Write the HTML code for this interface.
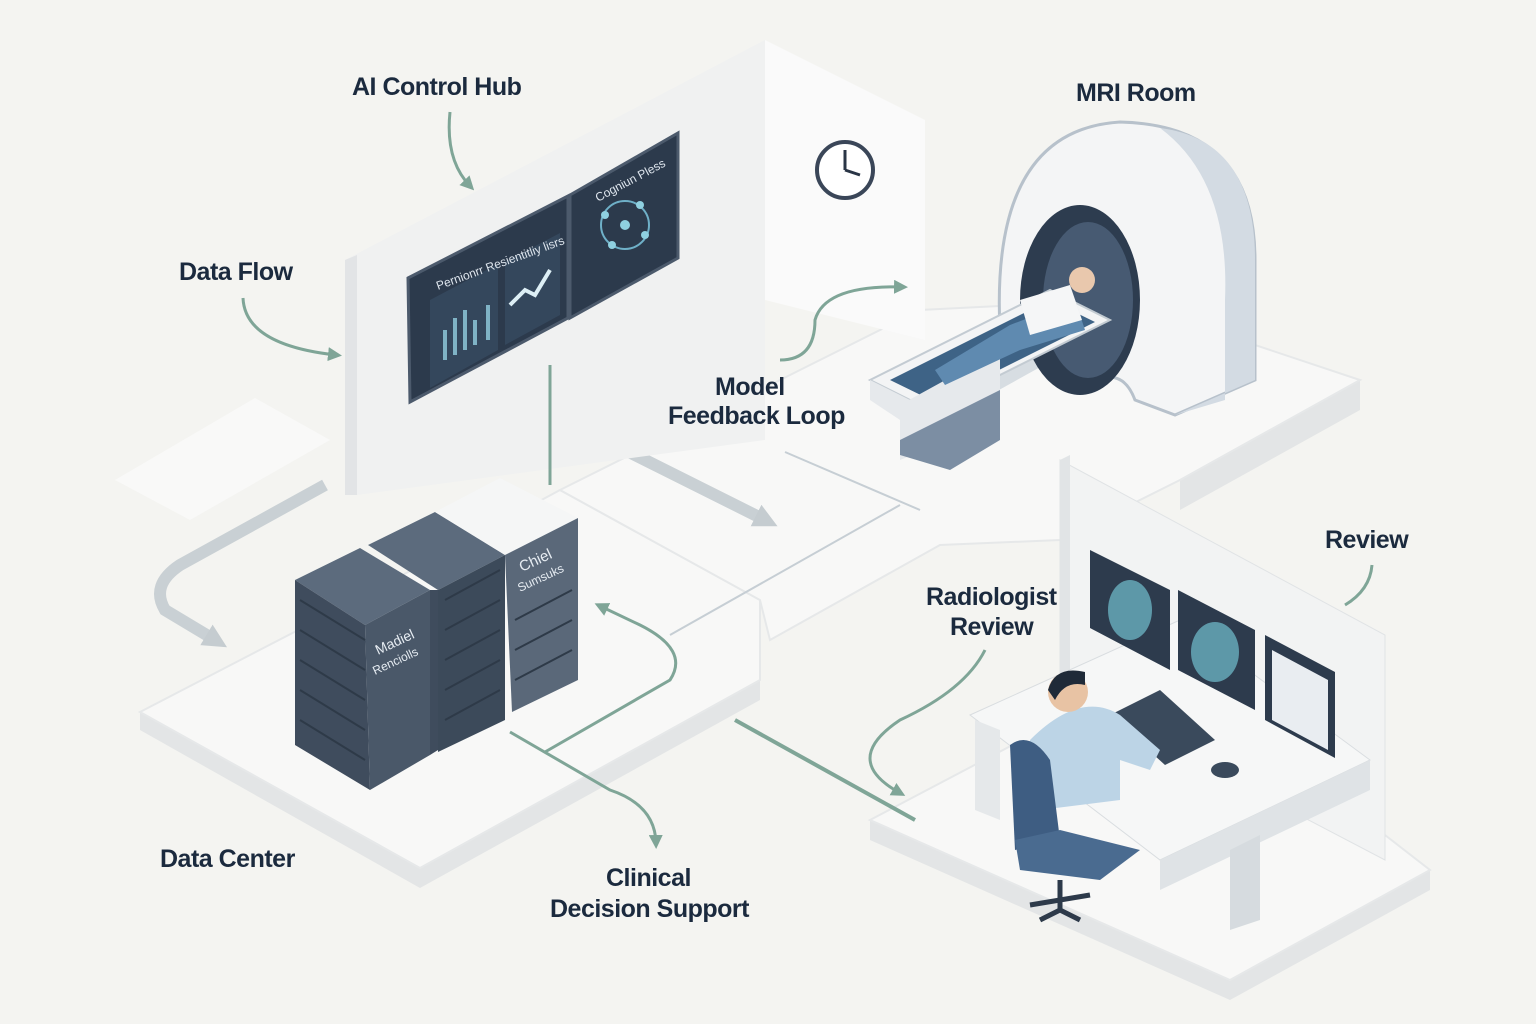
<!DOCTYPE html>
<html><head><meta charset="utf-8"><style>
html,body{margin:0;padding:0;background:#f4f4f1;}
svg{display:block}
text{font-family:"Liberation Sans",sans-serif;fill:#1b2a3e;}
.lbl{font-size:25px;font-weight:bold;letter-spacing:-0.5px}
</style></head><body>
<svg width="1536" height="1024" viewBox="0 0 1536 1024" xmlns="http://www.w3.org/2000/svg">
<defs>
<marker id="ah" markerWidth="14" markerHeight="14" refX="8" refY="7" orient="auto" markerUnits="userSpaceOnUse"><path d="M0,0 L14,7 L0,14 z" fill="#7fa597"/></marker>
<marker id="ag" markerWidth="30" markerHeight="30" refX="10" refY="15" orient="auto" markerUnits="userSpaceOnUse"><path d="M0,3 L24,15 L0,27 z" fill="#c5ccd0"/></marker>
</defs>
<rect width="1536" height="1024" fill="#f4f4f1"/>
<polygon points="115,480 255,398 330,440 190,520" fill="#f9f9f8"/>
<g fill="#e3e5e6">
<polygon points="140,730 420,888 760,700 760,680 420,868 140,712"/>
<polygon points="870,840 1230,1000 1430,890 1430,870 1230,980 870,820"/>
<polygon points="1180,510 1360,410 1360,380 1180,480"/>
</g>
<g fill="#f8f8f7" stroke="#e6e8e9" stroke-width="2">
<polygon points="140,712 360,598 560,490 760,600 760,680 420,868"/>
<polygon points="560,490 800,370 920,310 1120,300 1360,380 1180,480 1060,540 940,545 770,640 760,600"/>
<polygon points="870,820 1060,720 1160,660 1430,870 1230,980"/>
</g>
<g stroke="#c6ced4" stroke-width="2" fill="none">
<line x1="560" y1="420" x2="750" y2="330"/>
<line x1="670" y1="635" x2="900" y2="505"/>
<line x1="785" y1="452" x2="920" y2="510"/>
</g>
<g stroke="#c9d0d4" stroke-width="12" fill="none">
<path d="M325,485 L180,565 Q150,585 165,610 L215,640" marker-end="url(#ag)"/>
<line x1="605" y1="440" x2="765" y2="520" marker-end="url(#ag)"/>
</g>
<polygon points="345,260 765,40 765,440 357,495" fill="#f0f1f1"/>
<polygon points="765,40 925,120 925,340 765,300" fill="#fafafa"/>
<polygon points="345,260 357,255 357,495 345,495" fill="#e2e4e6"/>
<polygon points="408,278 568,196 568,318 410,402" fill="#2c3a4c" stroke="#4c5a6c" stroke-width="3"/>
<polygon points="570,195 678,133 678,258 570,318" fill="#2c3a4c" stroke="#4c5a6c" stroke-width="3"/>
<polygon points="430,300 498,264 498,350 430,388" fill="#34475c"/>
<polygon points="505,262 560,233 560,315 505,345" fill="#34475c"/>
<g stroke="#7fb3c5" stroke-width="4"><line x1="445" y1="360" x2="445" y2="330"/><line x1="455" y1="355" x2="455" y2="318"/><line x1="465" y1="350" x2="465" y2="310"/><line x1="475" y1="345" x2="475" y2="320"/><line x1="488" y1="340" x2="488" y2="305"/></g>
<polyline points="510,305 525,290 535,295 550,270" stroke="#ddeff5" stroke-width="4" fill="none"/>
<circle cx="625" cy="225" r="24" fill="none" stroke="#6fb0c8" stroke-width="2"/>
<g fill="#8fd0e0"><circle cx="605" cy="215" r="4"/><circle cx="640" cy="205" r="4"/><circle cx="645" cy="235" r="4"/><circle cx="612" cy="245" r="4"/><circle cx="625" cy="225" r="5"/></g>
<text x="438" y="290" font-size="12" style="fill:#dfe6ee" transform="rotate(-20 438 290)">Pernionrr Resientitliy lisrs</text>
<text x="598" y="202" font-size="12" style="fill:#dfe6ee" transform="rotate(-28 598 202)">Cogniun Pless</text>
<circle cx="845" cy="170" r="28" fill="#fff" stroke="#3a4658" stroke-width="4"/>
<path d="M845,170 L845,150 M845,170 L860,175" stroke="#2a3546" stroke-width="3"/>
<polygon points="900,400 1080,300 1080,345 900,445" fill="#d7dde2"/>
<path d="M1000,330 Q990,130 1120,122 Q1255,125 1255,260 L1255,380 L1175,415 L1135,400 Q1120,360 1080,390 Z" fill="#f4f5f6" stroke="#b7c1cb" stroke-width="3"/>
<path d="M1175,415 L1255,380 L1255,260 Q1255,140 1160,128 Q1230,180 1225,300 L1225,400 Z" fill="#d3dbe3"/>
<ellipse cx="1080" cy="300" rx="60" ry="95" fill="#2d3c4f"/>
<ellipse cx="1088" cy="300" rx="45" ry="78" fill="#475a72"/>
<polygon points="870,380 1050,290 1110,320 930,410" fill="#f3f4f5" stroke="#c3cbd2" stroke-width="2"/>
<polygon points="890,380 1050,300 1095,322 935,402" fill="#3e6386"/>
<polygon points="870,380 930,410 930,440 870,400" fill="#e6e9ec"/>
<polygon points="900,405 1000,350 1000,420 900,460" fill="#e6e9ec"/>
<polygon points="900,440 1000,390 1000,440 950,470 900,455" fill="#7c8ea3"/>
<path d="M935,370 L1010,325 L1075,300 L1085,330 L1020,350 L945,385 Z" fill="#5f8ab0"/>
<path d="M1020,300 L1070,285 L1082,320 L1030,335 Z" fill="#f5f6f7"/>
<circle cx="1082" cy="280" r="13" fill="#e9c8ad"/>
<polygon points="295,580 360,548 430,590 365,625" fill="#5c6b7d"/>
<polygon points="295,580 365,625 370,790 295,745" fill="#3f4c5d"/>
<polygon points="365,625 430,590 430,755 370,790" fill="#4a5869"/>
<polygon points="368,545 435,512 505,555 438,590" fill="#5c6b7d"/>
<polygon points="430,590 438,590 438,750 430,755" fill="#3f4c5d"/>
<polygon points="438,590 505,555 505,720 438,752" fill="#3c4a5a"/>
<polygon points="435,512 500,478 578,518 505,555" fill="#f5f6f6"/>
<polygon points="505,555 578,518 578,680 512,712" fill="#5a6879"/>
<g stroke="#2e3a48" stroke-width="2">
<line x1="300" y1="600" x2="365" y2="640"/><line x1="300" y1="630" x2="365" y2="670"/><line x1="300" y1="660" x2="365" y2="700"/><line x1="300" y1="690" x2="365" y2="730"/><line x1="300" y1="720" x2="365" y2="760"/>
<line x1="445" y1="600" x2="500" y2="570"/><line x1="445" y1="630" x2="500" y2="600"/><line x1="445" y1="660" x2="500" y2="630"/><line x1="445" y1="690" x2="500" y2="660"/><line x1="445" y1="720" x2="500" y2="690"/>
<line x1="515" y1="620" x2="572" y2="590"/><line x1="515" y1="650" x2="572" y2="620"/><line x1="515" y1="680" x2="572" y2="650"/>
</g>
<text x="378" y="655" font-size="14" style="fill:#e6ecf2" transform="rotate(-25 378 655)">Madiel</text>
<text x="375" y="675" font-size="12" style="fill:#e6ecf2" transform="rotate(-25 375 675)">Renciolls</text>
<text x="522" y="572" font-size="15" style="fill:#e6ecf2" transform="rotate(-25 522 572)">Chiel</text>
<text x="520" y="592" font-size="12" style="fill:#e6ecf2" transform="rotate(-25 520 592)">Sumsuks</text>
<polygon points="1060,460 1385,635 1385,860 1060,690" fill="#f2f3f3" stroke="#e0e3e5"/>
<polygon points="1060,460 1070,455 1070,690 1060,690" fill="#e1e4e6"/>
<polygon points="970,715 1180,620 1370,760 1160,860" fill="#f6f7f7" stroke="#d9dde0"/>
<polygon points="1160,860 1370,760 1370,790 1160,890" fill="#dfe3e6"/>
<polygon points="975,720 1000,730 1000,820 975,810" fill="#e5e8ea"/>
<polygon points="1230,850 1260,835 1260,920 1230,930" fill="#d6dbdf"/>
<g fill="#2d3b4d">
<polygon points="1090,550 1170,590 1170,670 1090,628"/>
<polygon points="1178,590 1255,630 1255,710 1178,670"/>
<polygon points="1265,635 1335,672 1335,758 1265,720"/>
</g>
<ellipse cx="1130" cy="610" rx="22" ry="30" fill="#5d98a8"/>
<ellipse cx="1215" cy="652" rx="24" ry="30" fill="#5d98a8"/>
<polygon points="1272,650 1328,680 1328,750 1272,720" fill="#e9edf1"/>
<polygon points="1110,715 1160,690 1215,740 1165,765" fill="#3a4a5c"/>
<ellipse cx="1225" cy="770" rx="14" ry="8" fill="#3a4a5c"/>
<path d="M1030,740 Q1080,690 1120,715 L1160,750 L1150,770 L1120,760 L1120,800 L1040,810 Z" fill="#bcd4e6"/>
<circle cx="1068" cy="692" r="20" fill="#e8c3a4"/>
<path d="M1048,690 Q1055,665 1085,672 L1085,685 Q1065,680 1055,700 Z" fill="#1f2a38"/>
<path d="M1010,745 Q1030,730 1050,760 L1060,840 L1015,850 Z" fill="#3e5d82"/>
<path d="M1015,840 L1060,830 L1140,850 L1100,880 L1020,870 Z" fill="#4a6b90"/>
<path d="M1060,880 L1060,910 M1030,905 L1090,895 M1060,910 L1040,920 M1060,910 L1080,920" stroke="#2d3a4a" stroke-width="5"/>
<g stroke="#7fa597" stroke-width="3" fill="none">
<path d="M450,112 Q445,160 470,186" marker-end="url(#ah)"/>
<path d="M243,298 Q245,345 336,355" marker-end="url(#ah)"/>
<path d="M780,360 Q815,360 815,320 Q825,285 902,287" marker-end="url(#ah)"/>
<line x1="550" y1="365" x2="550" y2="485"/>
<path d="M545,752 L670,680 Q690,650 640,625 L600,606" marker-end="url(#ah)"/>
<path d="M510,732 L610,790 Q655,805 656,843" marker-end="url(#ah)"/>
<path d="M985,650 Q965,690 900,720 Q840,760 900,793" marker-end="url(#ah)"/>
<line x1="735" y1="720" x2="915" y2="820" stroke-width="4"/>
<path d="M1372,565 Q1370,590 1345,605"/>
</g>
<text class="lbl" x="352" y="95">AI Control Hub</text>
<text class="lbl" x="1076" y="101">MRI Room</text>
<text class="lbl" x="179" y="280">Data Flow</text>
<text class="lbl" x="715" y="395">Model</text>
<text class="lbl" x="668" y="424">Feedback Loop</text>
<text class="lbl" x="1325" y="548">Review</text>
<text class="lbl" x="926" y="605">Radiologist</text>
<text class="lbl" x="950" y="635">Review</text>
<text class="lbl" x="160" y="867">Data Center</text>
<text class="lbl" x="606" y="886">Clinical</text>
<text class="lbl" x="550" y="917">Decision Support</text>
</svg>
</body></html>
